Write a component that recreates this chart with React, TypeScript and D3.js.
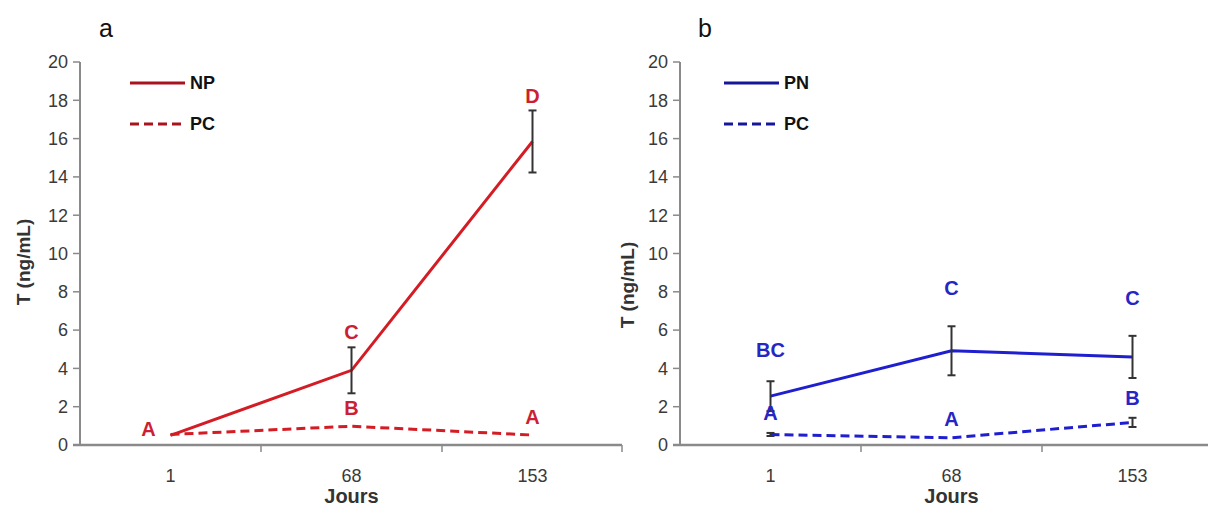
import React from "react";
import * as d3 from "d3";

const days = ["1", "68", "153"];
const yTicks = [0, 2, 4, 6, 8, 10, 12, 14, 16, 18, 20];

// Panel a
const npMean = [0.5, 3.9, 15.85];
const npErr = [0, 1.2, 1.62];
const pcAMean = [0.55, 0.98, 0.52];
const pcAErr = [0, 0, 0];
const npLetters = ["", "C", "D"];
const pcALetters = ["A", "B", "A"];

// Panel b
const pnMean = [2.55, 4.92, 4.6];
const pnErr = [0.78, 1.28, 1.1];
const pcBMean = [0.55, 0.38, 1.18];
const pcBErr = [0.08, 0, 0.24];
const pnLetters = ["BC", "C", "C"];
const pcBLetters = ["A", "A", "B"];

type Series = {
  name: string;
  mean: number[];
  err: number[];
  letters: string[];
  dashed: boolean;
  letterDy: number[];
  letterDx: number[];
};

type Panel = {
  tag: string;
  tagX: number;
  left: number;
  right: number;
  band: number;
  axisEnd: number;
  lineColor: string;
  legendColor: string;
  letterColor: string;
  legendX: number;
  ylabelX: number;
  ylabelY: number;
  series: Series[];
};

const TOP = 62;
const BOTTOM = 445;

const panels: Panel[] = [
  {
    tag: "a",
    tagX: 106,
    left: 80,
    right: 622,
    band: 181,
    axisEnd: 622,
    lineColor: "#d41c24",
    legendColor: "#a8141e",
    letterColor: "#cc1f33",
    legendX: 130,
    ylabelX: 23,
    ylabelY: 262,
    series: [
      { name: "NP", mean: npMean, err: npErr, letters: npLetters, dashed: false, letterDy: [0, -16, -15], letterDx: [0, 0, 0] },
      { name: "PC", mean: pcAMean, err: pcAErr, letters: pcALetters, dashed: true, letterDy: [-6, -18, -18], letterDx: [-22, 0, 0] },
    ],
  },
  {
    tag: "b",
    tagX: 705,
    left: 680,
    right: 1223,
    band: 181,
    axisEnd: 1208,
    lineColor: "#1f1fd0",
    legendColor: "#16169a",
    letterColor: "#2626c4",
    legendX: 724,
    ylabelX: 627,
    ylabelY: 285,
    series: [
      { name: "PN", mean: pnMean, err: pnErr, letters: pnLetters, dashed: false, letterDy: [-31, -38, -38], letterDx: [0, 0, 0] },
      { name: "PC", mean: pcBMean, err: pcBErr, letters: pcBLetters, dashed: true, letterDy: [-20, -19, -20], letterDx: [0, 0, 0] },
    ],
  },
];

const y = d3.scaleLinear().domain([0, 20]).range([BOTTOM, TOP]);

function PanelView({ p }: { p: Panel }) {
  const x = d3.scaleBand<string>().domain(days).range([p.left, p.left + p.band * 3]).paddingInner(0).paddingOuter(0);
  const cx = (d: string) => (x(d) as number) + x.bandwidth() / 2;
  const line = d3
    .line<number>()
    .x((_, i) => cx(days[i]))
    .y((v) => y(v));
  const axisColor = "#8a8a8a";
  const font = "Arial, 'Liberation Sans', sans-serif";
  return (
    <g>
      <text x={p.tagX} y={37} fontSize={25} fontFamily={font} fill="#111" textAnchor="middle">
        {p.tag}
      </text>
      {/* y axis */}
      <line x1={p.left} x2={p.left} y1={TOP} y2={BOTTOM} stroke={axisColor} strokeWidth={2} />
      {yTicks.map((t) => (
        <g key={t}>
          <line x1={p.left - 7} x2={p.left} y1={y(t)} y2={y(t)} stroke={axisColor} strokeWidth={1.5} />
          <text x={p.left - 12} y={y(t)} dy="0.35em" textAnchor="end" fontSize={18} fontFamily={font} fill="#3a3a3a">
            {t}
          </text>
        </g>
      ))}
      {/* x axis */}
      <line x1={p.left - 7} x2={p.axisEnd} y1={BOTTOM} y2={BOTTOM} stroke={axisColor} strokeWidth={2.5} />
      {days.slice(1).map((d) => (
        <line key={d} x1={x(d) as number} x2={x(d) as number} y1={BOTTOM} y2={BOTTOM + 7} stroke={axisColor} strokeWidth={1.5} />
      ))}
      {p.axisEnd >= p.right ? (
        <line x1={p.right} x2={p.right} y1={BOTTOM} y2={BOTTOM + 7} stroke={axisColor} strokeWidth={1.5} />
      ) : null}
      {days.map((d) => (
        <text key={d} x={cx(d)} y={482} textAnchor="middle" fontSize={18} fontFamily={font} fill="#3a3a3a">
          {d}
        </text>
      ))}
      <text x={p.left + p.band * 1.5} y={503} textAnchor="middle" fontSize={20} fontWeight="bold" fontFamily={font} fill="#333">
        Jours
      </text>
      <text
        transform={`translate(${p.ylabelX},${p.ylabelY}) rotate(-90)`}
        textAnchor="middle"
        dy="0.35em"
        fontSize={19}
        fontWeight="bold"
        fontFamily={font}
        fill="#333"
      >
        T (ng/mL)
      </text>
      {/* series */}
      {p.series.map((s, si) => (
        <g key={si}>
          <path
            d={line(s.mean) || ""}
            fill="none"
            stroke={p.lineColor}
            strokeWidth={3}
            strokeDasharray={s.dashed ? "9,5" : undefined}
          />
          {s.mean.map((m, i) =>
            s.err[i] > 0 ? (
              <g key={i} stroke="#333" strokeWidth={2}>
                <line x1={cx(days[i])} x2={cx(days[i])} y1={y(m + s.err[i])} y2={y(m - s.err[i])} />
                <line x1={cx(days[i]) - 4} x2={cx(days[i]) + 4} y1={y(m + s.err[i])} y2={y(m + s.err[i])} />
                <line x1={cx(days[i]) - 4} x2={cx(days[i]) + 4} y1={y(m - s.err[i])} y2={y(m - s.err[i])} />
              </g>
            ) : null
          )}
          {s.letters.map((l, i) =>
            l ? (
              <text
                key={"l" + i}
                x={cx(days[i]) + s.letterDx[i]}
                y={y(s.mean[i] + s.err[i]) + s.letterDy[i]}
                dy="0.36em"
                textAnchor="middle"
                fontSize={20}
                fontWeight="bold"
                fontFamily={font}
                fill={p.letterColor}
              >
                {l}
              </text>
            ) : null
          )}
        </g>
      ))}
      {/* legend */}
      {p.series.map((s, si) => (
        <g key={"lg" + si}>
          <line
            x1={p.legendX}
            x2={p.legendX + 55}
            y1={83 + si * 41}
            y2={83 + si * 41}
            stroke={p.legendColor}
            strokeWidth={3}
            strokeDasharray={s.dashed ? "9,5" : undefined}
          />
          <text x={p.legendX + 60} y={83 + si * 41} dy="0.36em" fontSize={18} fontWeight="bold" fontFamily={font} fill="#111">
            {s.name}
          </text>
        </g>
      ))}
    </g>
  );
}

export default function App() {
  return (
    <svg
      width={1208}
      height={511}
      style={{ position: "absolute", left: 0, top: 0, background: "#fff" }}
    >
      <rect width={1208} height={511} fill="#fff" />
      {panels.map((p) => (
        <PanelView key={p.tag} p={p} />
      ))}
    </svg>
  );
}
